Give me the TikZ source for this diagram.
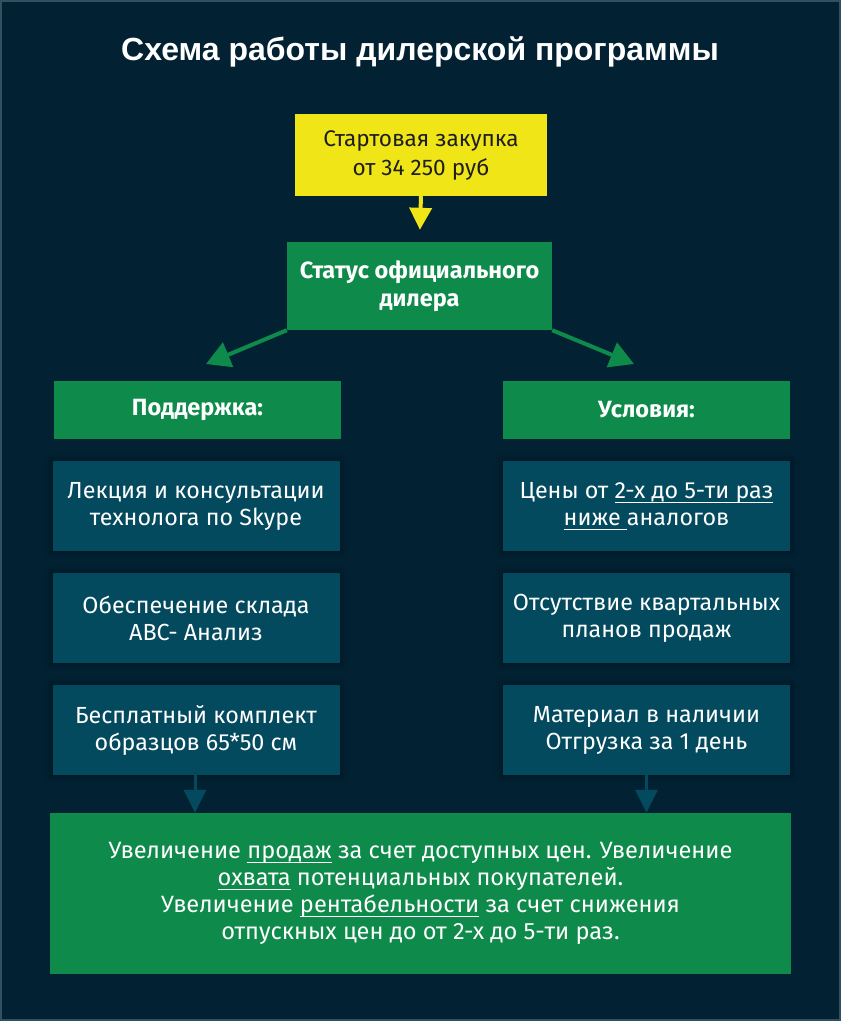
\documentclass[tikz,border=0pt]{standalone}
\usepackage{fontspec}
\setmainfont{Fira Sans}
\newfontfamily\titlefont{Liberation Sans}
\usetikzlibrary{arrows.meta,shadows.blur}
\newsavebox\ulbox
\newcommand\myul[1]{\sbox\ulbox{#1}\rlap{\rule[-4.5pt]{\wd\ulbox}{1pt}}\usebox\ulbox}
\definecolor{bgc}{HTML}{022234}
\definecolor{edgec}{HTML}{33505E}
\definecolor{yelc}{HTML}{F0E516}
\definecolor{grnc}{HTML}{0E8A4A}
\definecolor{tealc}{HTML}{034A5E}
\definecolor{darktext}{HTML}{1E1E1E}
\tikzset{
  box/.style={rectangle, inner sep=0pt, align=center, font=\fontsize{23.3}{27}\selectfont},
  yelbox/.style={box, fill=yelc, text=darktext, minimum width=252pt, minimum height=82pt, font=\fontsize{22.6}{29}\selectfont},
  grnbox/.style={box, fill=grnc, text=white, font=\bfseries\fontsize{23.5}{28}\selectfont},
  tealbox/.style={box, fill=tealc, text=white, minimum width=287pt, minimum height=90pt,
    blur shadow={shadow xshift=0pt, shadow yshift=0pt, shadow blur radius=9pt, shadow opacity=45}},
  yarrow/.style={yelc, line width=4pt, -{Triangle[length=22pt,width=22pt]}},
  garrow/.style={grnc, line width=4pt, -{Triangle[length=24pt,width=26pt]}},
  tarrow/.style={tealc, line width=3pt, -{Triangle[length=23pt,width=22pt]}},
}
\begin{document}
\begin{tikzpicture}[x=1pt,y=-1pt]
\fill[bgc] (0,0) rectangle (841,1021);
\draw[edgec, line width=2pt] (1,1) rectangle (840,1020);
\useasboundingbox (0,0) rectangle (841,1021);

\node[font=\titlefont\bfseries\fontsize{32}{36}\selectfont, text=white] (title) at (420,52) {Схема работы дилерской программы};

\node[yelbox] (start) at (421,155) {Стартовая закупка\\от 34 250 руб};
\node[grnbox, minimum width=265pt, minimum height=88pt] (status) at (419.5,286) {Статус официального\\дилера};

\node[grnbox, minimum width=287pt, minimum height=58pt] (supp) at (197.5,410) {Поддержка:};
\node[grnbox, minimum width=287pt, minimum height=58pt] (cond) at (646.5,410) {Условия:};

\node[tealbox] (l1) at (196,506) {Лекция и консультации\\технолога по Skype};
\node[tealbox] (l2) at (196,618) {Обеспечение склада\\ABC- Анализ};
\node[tealbox] (l3) at (196,730) {Бесплатный комплект\\образцов 65*50 см};

\node[tealbox] (r1) at (646.5,506) {Цены от \myul{2-х до 5-ти раз}\\\myul{ниже\ }аналогов};
\node[tealbox] (r2) at (646.5,618) {Отсутствие квартальных\\планов продаж};
\node[tealbox] (r3) at (646.5,730) {Материал в наличии\\Отгрузка за 1 день};

\node[box, fill=grnc, text=white, minimum width=741pt, minimum height=161pt, font=\fontsize{23.6}{27}\selectfont] (result) at (420.5,893.5)
  {Увеличение \myul{продаж} за счет доступных цен. Увеличение\\\myul{охвата} потенциальных покупателей.\\Увеличение \myul{рентабельности} за счет снижения\\отпускных цен до от 2-х до 5-ти раз.};

\coordinate (tipL) at (206,364);
\coordinate (tipR) at (634,364);

\draw[yarrow, shorten >=12pt] (start.south) -- (status.north);
\draw[garrow] (status.south west) -- (tipL);
\draw[garrow] (status.south east) -- (tipR);
\draw[tarrow] ([xshift=-1pt]l3.south) -- ([xshift=-1pt]l3.south |- result.north);
\draw[tarrow] (r3.south) -- (r3.south |- result.north);
\end{tikzpicture}
\end{document}
